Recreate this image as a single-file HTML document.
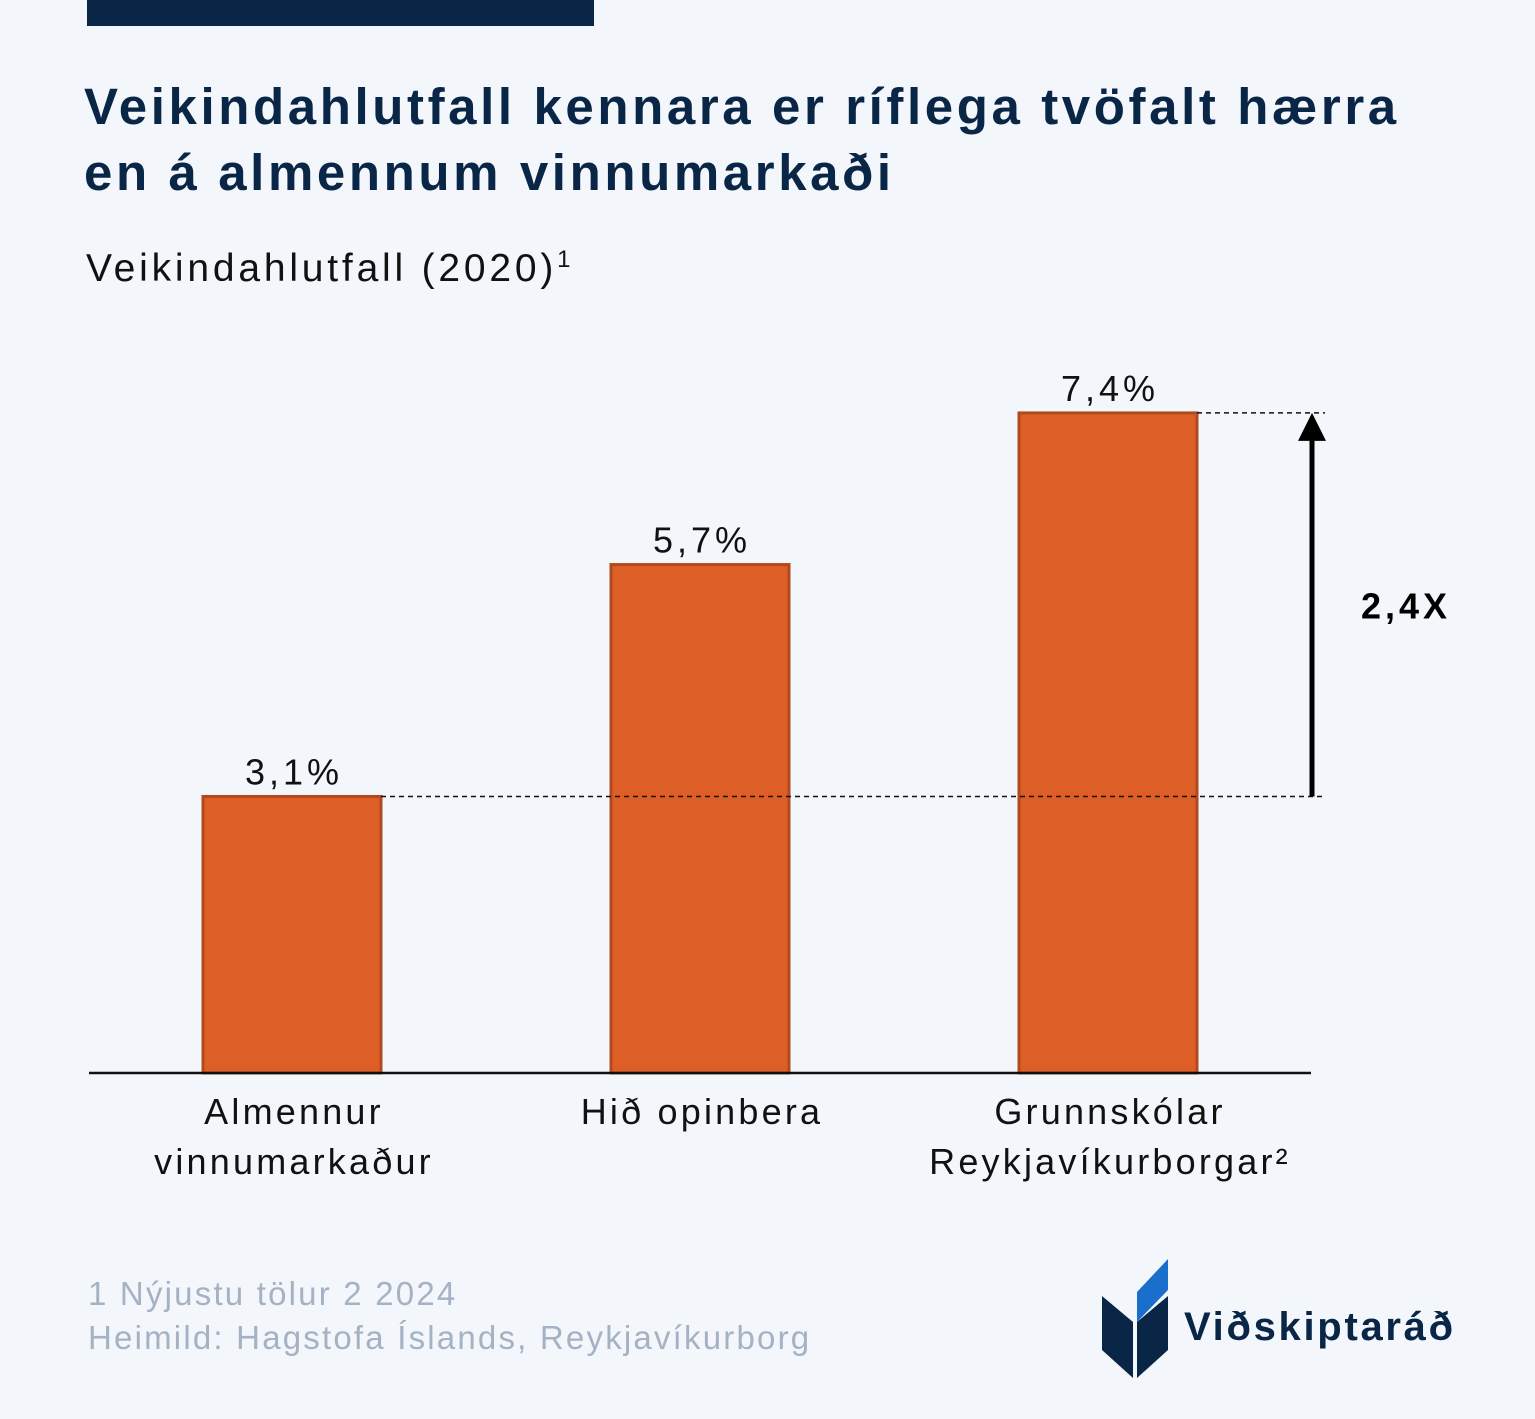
<!DOCTYPE html>
<html><head><meta charset="utf-8"><style>
body{margin:0;width:1535px;height:1419px;background:#f3f6fb;font-family:"Liberation Sans",sans-serif;overflow:hidden;position:relative}
.t{position:absolute;white-space:nowrap}
</style></head><body>
<div style="position:absolute;left:87px;top:0;width:507px;height:26px;background:#0a2647"></div>
<div class="t" style="left:84px;top:74px;font-size:51px;font-weight:bold;color:#0a2647;line-height:66px;letter-spacing:3.6px">Veikindahlutfall kennara er ríflega tvöfalt hærra<br>en á almennum vinnumarkaði</div>
<div class="t" style="left:86px;top:246px;font-size:39px;color:#111;letter-spacing:3.8px">Veikindahlutfall (2020)<sup style="font-size:24px">1</sup></div>
<svg id="chart" width="1535" height="1419" style="position:absolute;left:0;top:0" font-family="Liberation Sans, sans-serif"></svg>
<div class="t" style="left:88px;top:1272px;font-size:33px;color:#a5b2c4;line-height:44px;letter-spacing:2.2px">1 Nýjustu tölur 2 2024<br>Heimild: Hagstofa Íslands, Reykjavíkurborg</div>
<svg style="position:absolute;left:0;top:0" width="1535" height="1419">
<path d="M1102,1296 L1133,1322 L1133,1378 L1102,1350 Z" fill="#0a2647"/>
<path d="M1137,1322 L1168,1296 L1168,1350 L1137,1378 Z" fill="#0a2647"/>
<path d="M1168,1259 L1168,1290 L1137,1322 L1137,1292 Z" fill="#1a6fcc"/>
<text x="1184" y="1340" font-size="40" font-weight="bold" fill="#0a2647" letter-spacing="2.7" font-family="Liberation Sans, sans-serif">Viðskiptaráð</text>
</svg>
<script>
const categories=["Almennur|vinnumarkaður","Hið opinbera","Grunnskólar|Reykjavíkurborgar²"];
const values=[3.1,5.7,7.4];
const valueLabels=["3,1%","5,7%","7,4%"];
const ns="http://www.w3.org/2000/svg";
const svg=document.getElementById('chart');
const base=1073,pxPer=89.2,x0=292,step=408,bw=178;
const y=v=>base-v*pxPer, x=i=>x0+i*step;
function mk(t,a){const e=document.createElementNS(ns,t);for(const k in a)e.setAttribute(k,a[k]);svg.appendChild(e);return e;}
values.forEach((v,i)=>{
 const r=mk('rect',{x:x(i)-bw/2,y:y(v),width:bw,height:base-y(v),fill:'#de5e27',stroke:'#b04a1e','stroke-width':3});
 
 
 const t=mk('text',{x:x(i)+2,y:y(v)-12,'text-anchor':'middle','font-size':36,fill:'#111','letter-spacing':4});t.textContent=valueLabels[i];
 
 
 categories[i].split('|').forEach((ln,j)=>{const c=mk('text',{x:x(i)+2,y:1124+j*50,'text-anchor':'middle','font-size':36,fill:'#111','letter-spacing':3.2});c.textContent=ln;
 
 });
});
const ax=mk('line',{x1:89,x2:1311,y1:base,y2:base,stroke:'#111','stroke-width':2.5});


const yl=y(values[0]),yh=y(values[2]);
mk('line',{x1:x(0)+bw/2,x2:1325,y1:yl,y2:yl,stroke:'#111','stroke-width':1.5,'stroke-dasharray':'5,4'});
mk('line',{x1:x(2)+bw/2,x2:1325,y1:yh,y2:yh,stroke:'#111','stroke-width':1.5,'stroke-dasharray':'5,4'});
const ar=mk('line',{x1:1312,x2:1312,y1:yl,y2:yh+25,stroke:'#000','stroke-width':5});


mk('path',{d:`M1298,${yh+28} L1312,${yh} L1326,${yh+28} Z`,fill:'#000'});
const rt=mk('text',{x:1361,y:(yl+yh)/2+14,'font-size':36,'font-weight':'bold',fill:'#000','letter-spacing':4});rt.textContent=(values[2]/values[0]).toFixed(1).replace('.',',')+'X';


</script>
</body></html>
